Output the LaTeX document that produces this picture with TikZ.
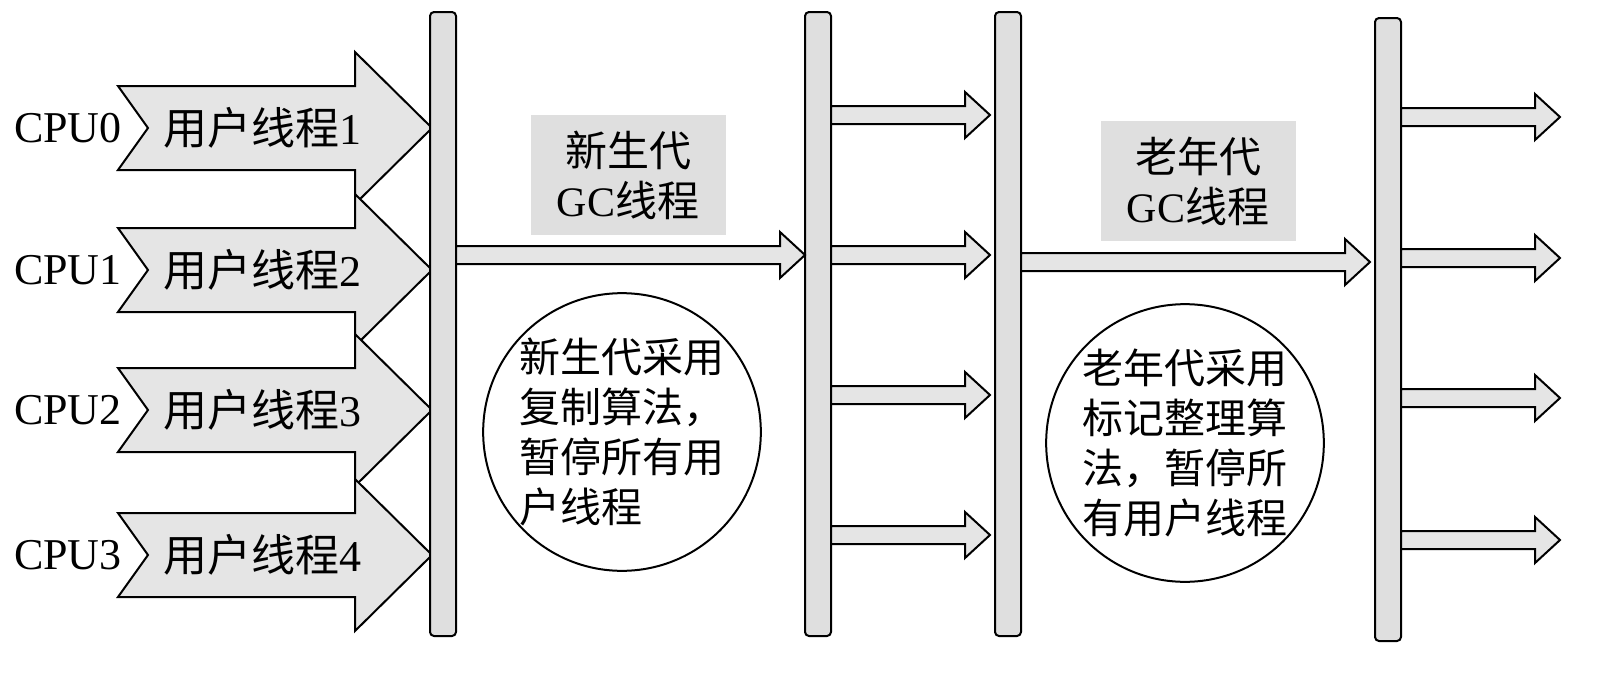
\documentclass[tikz,border=0pt]{standalone}
\usepackage{fontspec}
\setmainfont{Liberation Serif}
\newfontfamily\cjk{Noto Sans CJK SC}
\begin{document}
\begin{tikzpicture}[x=0.5pt,y=-0.5pt,
  bar/.style={draw=black,line width=1pt,fill=gray!25,rounded corners=2pt},
  arr/.style={draw=black,line width=1pt,fill=gray!20},
  txt/.style={font=\fontsize{22pt}{26pt}\selectfont},
  gbox/.style={fill=gray!25,minimum width=97.5pt,minimum height=60pt,align=center,font=\fontsize{21pt}{25pt}\selectfont},
  circ/.style={circle,draw=black,line width=1pt,minimum size=125pt,inner sep=0pt,align=left,font=\fontsize{20.5pt}{25pt}\selectfont}]
\useasboundingbox (0,0) rectangle (1608,686);
% big arrows
\foreach \y/\n in {128/0,270/1,410/2,555/3}{
  \draw[arr] (118,\y-42) -- (355,\y-42) -- (355,\y-76) -- (432,\y) -- (355,\y+76) -- (355,\y+42) -- (118,\y+42) -- (148,\y) -- cycle;
  \node[txt,anchor=east,inner sep=0pt] (cpu\n) at (122,\y) {CPU\n};
}
\node[txt] (u1) at (262,128) {\cjk 用户线程\rmfamily 1};
\node[txt] (u2) at (262,270) {\cjk 用户线程\rmfamily 2};
\node[txt] (u3) at (262,410) {\cjk 用户线程\rmfamily 3};
\node[txt] (u4) at (262,555) {\cjk 用户线程\rmfamily 4};
% bars
\draw[bar] (430,12) rectangle (456,636);
\draw[bar] (805,12) rectangle (831,636);
\draw[bar] (995,12) rectangle (1021,636);
\draw[bar] (1375,18) rectangle (1401,641);
% thin arrows
\newcommand\thinarr[4]{% x1 x2 y headlen
  \draw[arr] (#1,#3-9) -- (#2-#4,#3-9) -- (#2-#4,#3-23) -- (#2,#3) -- (#2-#4,#3+23) -- (#2-#4,#3+9) -- (#1,#3+9) -- cycle;}
\thinarr{456}{805}{255}{25}
\thinarr{1021}{1370}{262}{25}
\foreach \y in {115,255,395,535}{\thinarr{831}{990}{\y}{25}}
\foreach \y in {117,258,398,540}{\thinarr{1401}{1560}{\y}{25}}
% gray boxes
\node[gbox] (g1) at (628,175) {{\cjk 新生代}\\GC{\cjk 线程}};
\node[gbox] (g2) at (1198,181) {{\cjk 老年代}\\GC{\cjk 线程}};
% circles
\node[circ] (c1) at (622,432) {\cjk 新生代采用\\\cjk 复制算法，\\\cjk 暂停所有用\\\cjk 户线程};
\node[circ] (c2) at (1185,443) {\cjk 老年代采用\\\cjk 标记整理算\\\cjk 法，暂停所\\\cjk 有用户线程};
\end{tikzpicture}
\end{document}
